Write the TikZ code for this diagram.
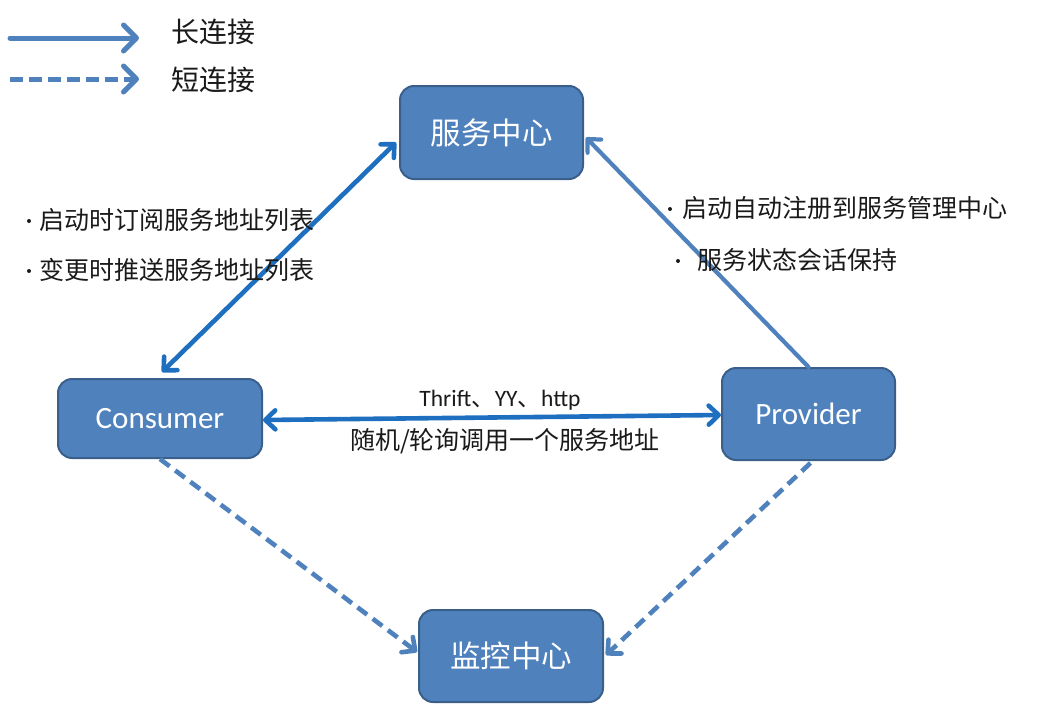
\documentclass[tikz,border=0pt]{standalone}
\usepackage{fontspec}
\setmainfont{Carlito}
\newfontfamily\cjk{Noto Sans CJK SC}
\usetikzlibrary{arrows.meta}
\definecolor{boxfill}{HTML}{4F81BD}
\definecolor{boxline}{HTML}{3A5F8B}
\definecolor{darkarrow}{HTML}{1F6FC0}
\definecolor{lightarrow}{HTML}{4F81BD}
\definecolor{txt}{HTML}{1A1A1A}
\tikzset{
  hd/.tip={Straight Barb[length=10pt,width=19pt,line cap=round,line join=round]},
  bighd/.tip={Straight Barb[length=13pt,width=26pt,line cap=round,line join=round]},
}
\begin{document}
\begin{tikzpicture}[x=1pt,y=-1pt,
  box/.style={draw=boxline, line width=2pt, fill=boxfill, rounded corners=14pt,
    text=white, inner sep=0pt, align=center},
  cjkbox/.style={box, font=\cjk\fontsize{30.5}{33}\selectfont},
  latbox/.style={box, font=\fontsize{31}{34}\selectfont},
  conn/.style={line width=4.6pt, line cap=round, line join=round},
  dk/.style={conn, draw=darkarrow},
  lt/.style={conn, draw=lightarrow},
  dashline/.style={dash pattern=on 12pt off 7pt, line cap=butt},
  lbl/.style={text=txt, inner sep=0pt, anchor=west, font=\cjk\fontsize{25}{28}\selectfont},
  bulletdot/.style={fill=txt},
]
\useasboundingbox (0,0) rectangle (1041,720);

% legend
\coordinate (l1a) at (10,38);
\coordinate (l1b) at (139,38);
\coordinate (l2a) at (10,79);
\coordinate (l2b) at (139,79);
\draw[lt, line width=5pt, -{bighd}] (l1a) -- (l1b);
\draw[lt, line width=5pt, dash pattern=on 13pt off 6pt, line cap=butt, -{bighd}] (l2a) -- (l2b);
\node[lbl, font=\cjk\fontsize{28}{30}\selectfont] (leg1) at (171,32) {长连接};
\node[lbl, font=\cjk\fontsize{28}{30}\selectfont] (leg2) at (171,80) {短连接};

% boxes
\node[cjkbox, minimum width=183pt, minimum height=93pt] (svc) at (491.5,132.5) {服务中心};
\node[latbox, minimum width=204pt, minimum height=79pt] (cons) at (160,418.5) {Consumer};
\node[latbox, minimum width=173pt, minimum height=92pt] (prov) at (808.5,414) {Provider};
\node[cjkbox, minimum width=184pt, minimum height=92pt] (mon) at (511,656) {监控中心};

% connectors
\draw[dk, {hd}-{hd}] ([shift={(2,-6)}]cons.north) -- ([shift={(-3,10)}]svc.west);
\draw[lt, line width=4.2pt, -{hd}] (prov.north) -- ([shift={(2,5)}]svc.east);
\draw[dk, {hd}-{hd}] ([shift={(0,1.5)}]cons.east) -- ([shift={(0,1)}]prov.west);
\draw[lt, dashline, -{hd}] (cons.south) -- ([shift={(-1,-4)}]mon.west);
\draw[lt, dashline, -{hd}] ([shift={(2,2)}]prov.south) -- ([shift={(2,-1)}]mon.east);

% labels
\fill[bulletdot] (29,221) circle (2pt);
\node[lbl] (t1) at (39,220) {启动时订阅服务地址列表};
\fill[bulletdot] (29,271) circle (2pt);
\node[lbl] (t2) at (39,270) {变更时推送服务地址列表};
\fill[bulletdot] (670,209) circle (2pt);
\node[lbl] (t3) at (682,208) {启动自动注册到服务管理中心};
\fill[bulletdot] (678,261) circle (2pt);
\node[lbl] (t4) at (697,260) {服务状态会话保持};
\node[text=txt, inner sep=0pt, font=\fontsize{23.5}{26}\selectfont] (proto) at (500,400)
  {Thrift{\cjk 、}YY{\cjk 、}http};
\node[text=txt, inner sep=0pt, font=\cjk\fontsize{25}{28}\selectfont] (call) at (505,441)
  {随机/轮询调用一个服务地址};
\end{tikzpicture}
\end{document}
